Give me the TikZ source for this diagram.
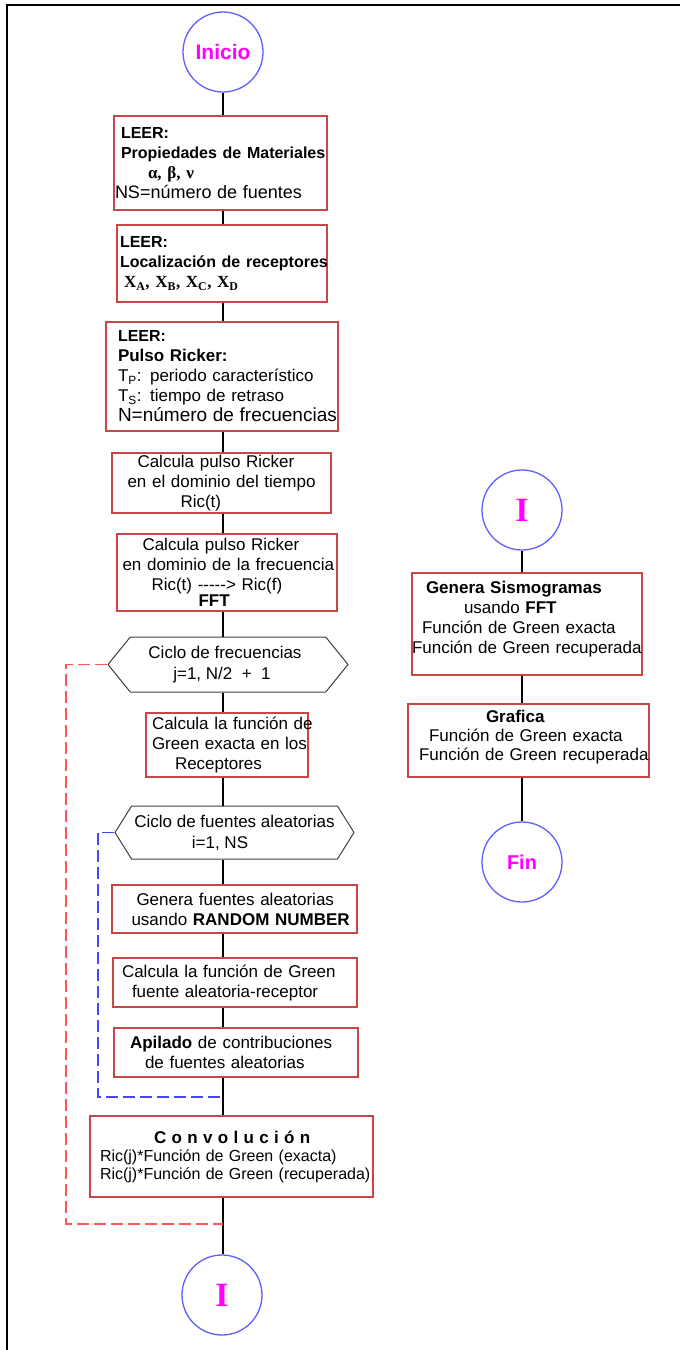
\documentclass[tikz,border=0pt]{standalone}
\usepackage{fontspec}
\setmainfont{Liberation Sans}
\newfontfamily\serifa{Liberation Serif}
\usetikzlibrary{shapes.symbols}
\definecolor{rojocaja}{RGB}{200,70,70}
\definecolor{azulcirc}{RGB}{95,95,255}
\definecolor{magentat}{RGB}{255,0,255}
\definecolor{rojolazo}{RGB}{255,85,85}
\definecolor{azullazo}{RGB}{70,70,255}
\newcommand{\negr}[2][17]{{\fontsize{#1}{20}\selectfont\bfseries #2}}
\newcommand{\tam}[1]{\fontsize{#1}{20}\selectfont}

\begin{document}
\begin{tikzpicture}[x=1pt,y=-1pt,
		caja/.style={draw=rojocaja, line width=1.2pt, fill=white, rectangle, inner sep=0pt, font=\fontsize{17}{20}\selectfont},
		ciclo/.style={draw=black!75, line width=1pt, fill=white, signal, signal to=east and west, inner sep=0pt, align=center, font=\fontsize{17}{21}\selectfont},
		terminal/.style={draw=azulcirc, line width=1.3pt, circle, minimum size=80pt, inner sep=0pt, text=magentat},
		linea/.style={line width=2.2pt},
		lazo/.style={line width=1.2pt, dash pattern=on 12pt off 5pt}]
		\useasboundingbox (0,0) rectangle (680,1350);
		\draw [line width=2.5pt] (7,1350) -- (7,5) -- (680,5);
		\node [terminal, font=\fontsize{21}{21}\selectfont\bfseries] (ini) at (223,52) {Inicio};
		\node [caja, minimum width=213, minimum height=94, text width=199, align=left] (b1) at (220.5,163) {\negr[16]{LEER:}\\ \mbox{\negr[16]{Propiedades de Materiales}}\\ \hspace*{27pt}{\serifa\bfseries α, β, ν}\\ \hspace*{-6pt}\mbox{\tam{18}NS=número de fuentes}};
		\node [caja, minimum width=210, minimum height=77, text width=204, align=left] (b2) at (222,263.5) {\negr[16]{LEER:}\\ \mbox{\negr[16]{Localización de receptores}}\\ \hspace*{4pt}{\serifa\bfseries X\textsubscript{A}, X\textsubscript{B}, X\textsubscript{C}, X\textsubscript{D}}};
		\node [caja, minimum width=232, minimum height=109, text width=208, align=left] (b3) at (222,376.5) {\negr[16]{LEER:}\\ \negr{Pulso Ricker:}\\ \mbox{T\textsubscript{P}: periodo característico}\\ \mbox{T\textsubscript{S}: tiempo de retraso}\\ \mbox{\tam{19}N=número de frecuencias}};
		\node [caja, minimum width=219, minimum height=60, text width=188, align=left] (b4) at (221.5,483) {\hspace*{10pt}\mbox{Calcula pulso Ricker}\\ \mbox{en el dominio del tiempo}\\ \hspace*{53pt}Ric(t)};
		\node [caja, minimum width=220, minimum height=77, text width=209, align=left] (b5) at (227,572.5) {\hspace*{20pt}\mbox{Calcula pulso Ricker}\\ \mbox{en dominio de la frecuencia}\\ \hspace*{29pt}\mbox{Ric(t) -{}-{}-{}-{}-> Ric(f)}\\[-4pt] \hspace*{76pt}\negr{FFT}};
		\node [ciclo, minimum width=240, minimum height=55, signal pointer angle=102] (h1) at (228,664.5) {\hspace*{-6pt}Ciclo de frecuencias\\ \hspace*{-12pt}j=1, N/2~ +~ 1};
		\node [caja, minimum width=162, minimum height=64, text width=150, align=left] (b6) at (227,745) {\mbox{Calcula la función de}\\ \mbox{Green exacta en los}\\ \hspace*{23pt}Receptores};
		\node [ciclo, minimum width=239, minimum height=53, signal pointer angle=116] (h2) at (234.5,832.5) {Ciclo de fuentes aleatorias\\ \hspace*{-29pt}i=1, NS};
		\node [caja, minimum width=245, minimum height=48, text width=206, align=left] (b7) at (234.5,909) {\hspace*{5pt}\mbox{Genera fuentes aleatorias}\\ \mbox{usando \negr{RANDOM NUMBER}}};
		\node [caja, minimum width=244, minimum height=49, text width=226, align=left] (b8) at (235,982.5) {\mbox{Calcula la función de Green}\\ \hspace*{10pt}\mbox{fuente aleatoria-receptor}};
		\node [caja, minimum width=244, minimum height=49, text width=212, align=left] (b9) at (236,1052.5) {\mbox{\negr{Apilado} de contribuciones}\\ \hspace*{15pt}\mbox{de fuentes aleatorias}};
		\node [caja, minimum width=283, minimum height=81, text width=263, align=left, font=\fontsize{16}{18}\selectfont] (b10) at (231.5,1156.5) {\hspace*{54pt}\mbox{\negr{C o n v o l u c i ó n}}\\ \mbox{Ric(j)*Función de Green (exacta)}\\ \mbox{Ric(j)*Función de Green (recuperada)}};
		\node [terminal, font=\fontsize{34}{34}\selectfont\serifa\bfseries] (ifin) at (222,1295) {I};
		\node [terminal, font=\fontsize{34}{34}\selectfont\serifa\bfseries] (i2) at (522,510) {I};
		\node [caja, minimum width=230, minimum height=102, text width=230, align=left] (r1) at (527,624) {\hspace*{14pt}\mbox{\negr{Genera Sismogramas}}\\ \hspace*{52pt}usando \negr{FFT}\\ \hspace*{10pt}\mbox{Función de Green exacta}\\ \mbox{Función de Green recuperada}\\[-6pt] \mbox{}};
		\node [caja, minimum width=241, minimum height=73, text width=241, align=left, font=\fontsize{17}{19}\selectfont] (r2) at (528.5,740.5) {\hspace*{78pt}\negr{Grafica}\\ \hspace*{21pt}\mbox{Función de Green exacta}\\ \hspace*{11pt}\mbox{Función de Green recuperada}\\[-8pt] \mbox{}};
		\node [terminal, font=\fontsize{20}{20}\selectfont\bfseries] (fin) at (522,862) {Fin};
		\draw [linea] (ini.south) -- (b1.north -| ini);
		\draw [linea] (b1.south -| ini) -- (b2.north -| ini);
		\draw [linea] (b2.south -| ini) -- (b3.north -| ini);
		\draw [linea] (b3.south -| ini) -- (b4.north -| ini);
		\draw [linea] (b4.south -| ini) -- (b5.north -| ini);
		\draw [linea] (b5.south -| ini) -- (h1.north -| ini);
		\draw [linea] (h1.south -| ini) -- (b6.north -| ini);
		\draw [linea] (b6.south -| ini) -- (h2.north -| ini);
		\draw [linea] (h2.south -| ini) -- (b7.north -| ini);
		\draw [linea] (b7.south -| ini) -- (b8.north -| ini);
		\draw [linea] (b8.south -| ini) -- (b9.north -| ini);
		\draw [linea] (b9.south -| ini) -- (b10.north -| ini);
		\draw [linea] (b10.south -| ini) -- (ifin.north -| ini);
		\draw [linea] (i2.south) -- (r1.north -| i2);
		\draw [linea] (r1.south -| i2) -- (r2.north -| i2);
		\draw [linea] (r2.south -| i2) -- (fin.north);
		\coordinate (esqr) at (66,1224);
		\coordinate (esqa) at (98,1097);
		\draw [lazo, draw=rojolazo] (h1.west) -| (esqr) -- (esqr -| ini);
		\draw [lazo, draw=azullazo] (h2.west) -| (esqa) -- (esqa -| ini);
\end{tikzpicture}
\end{document}
